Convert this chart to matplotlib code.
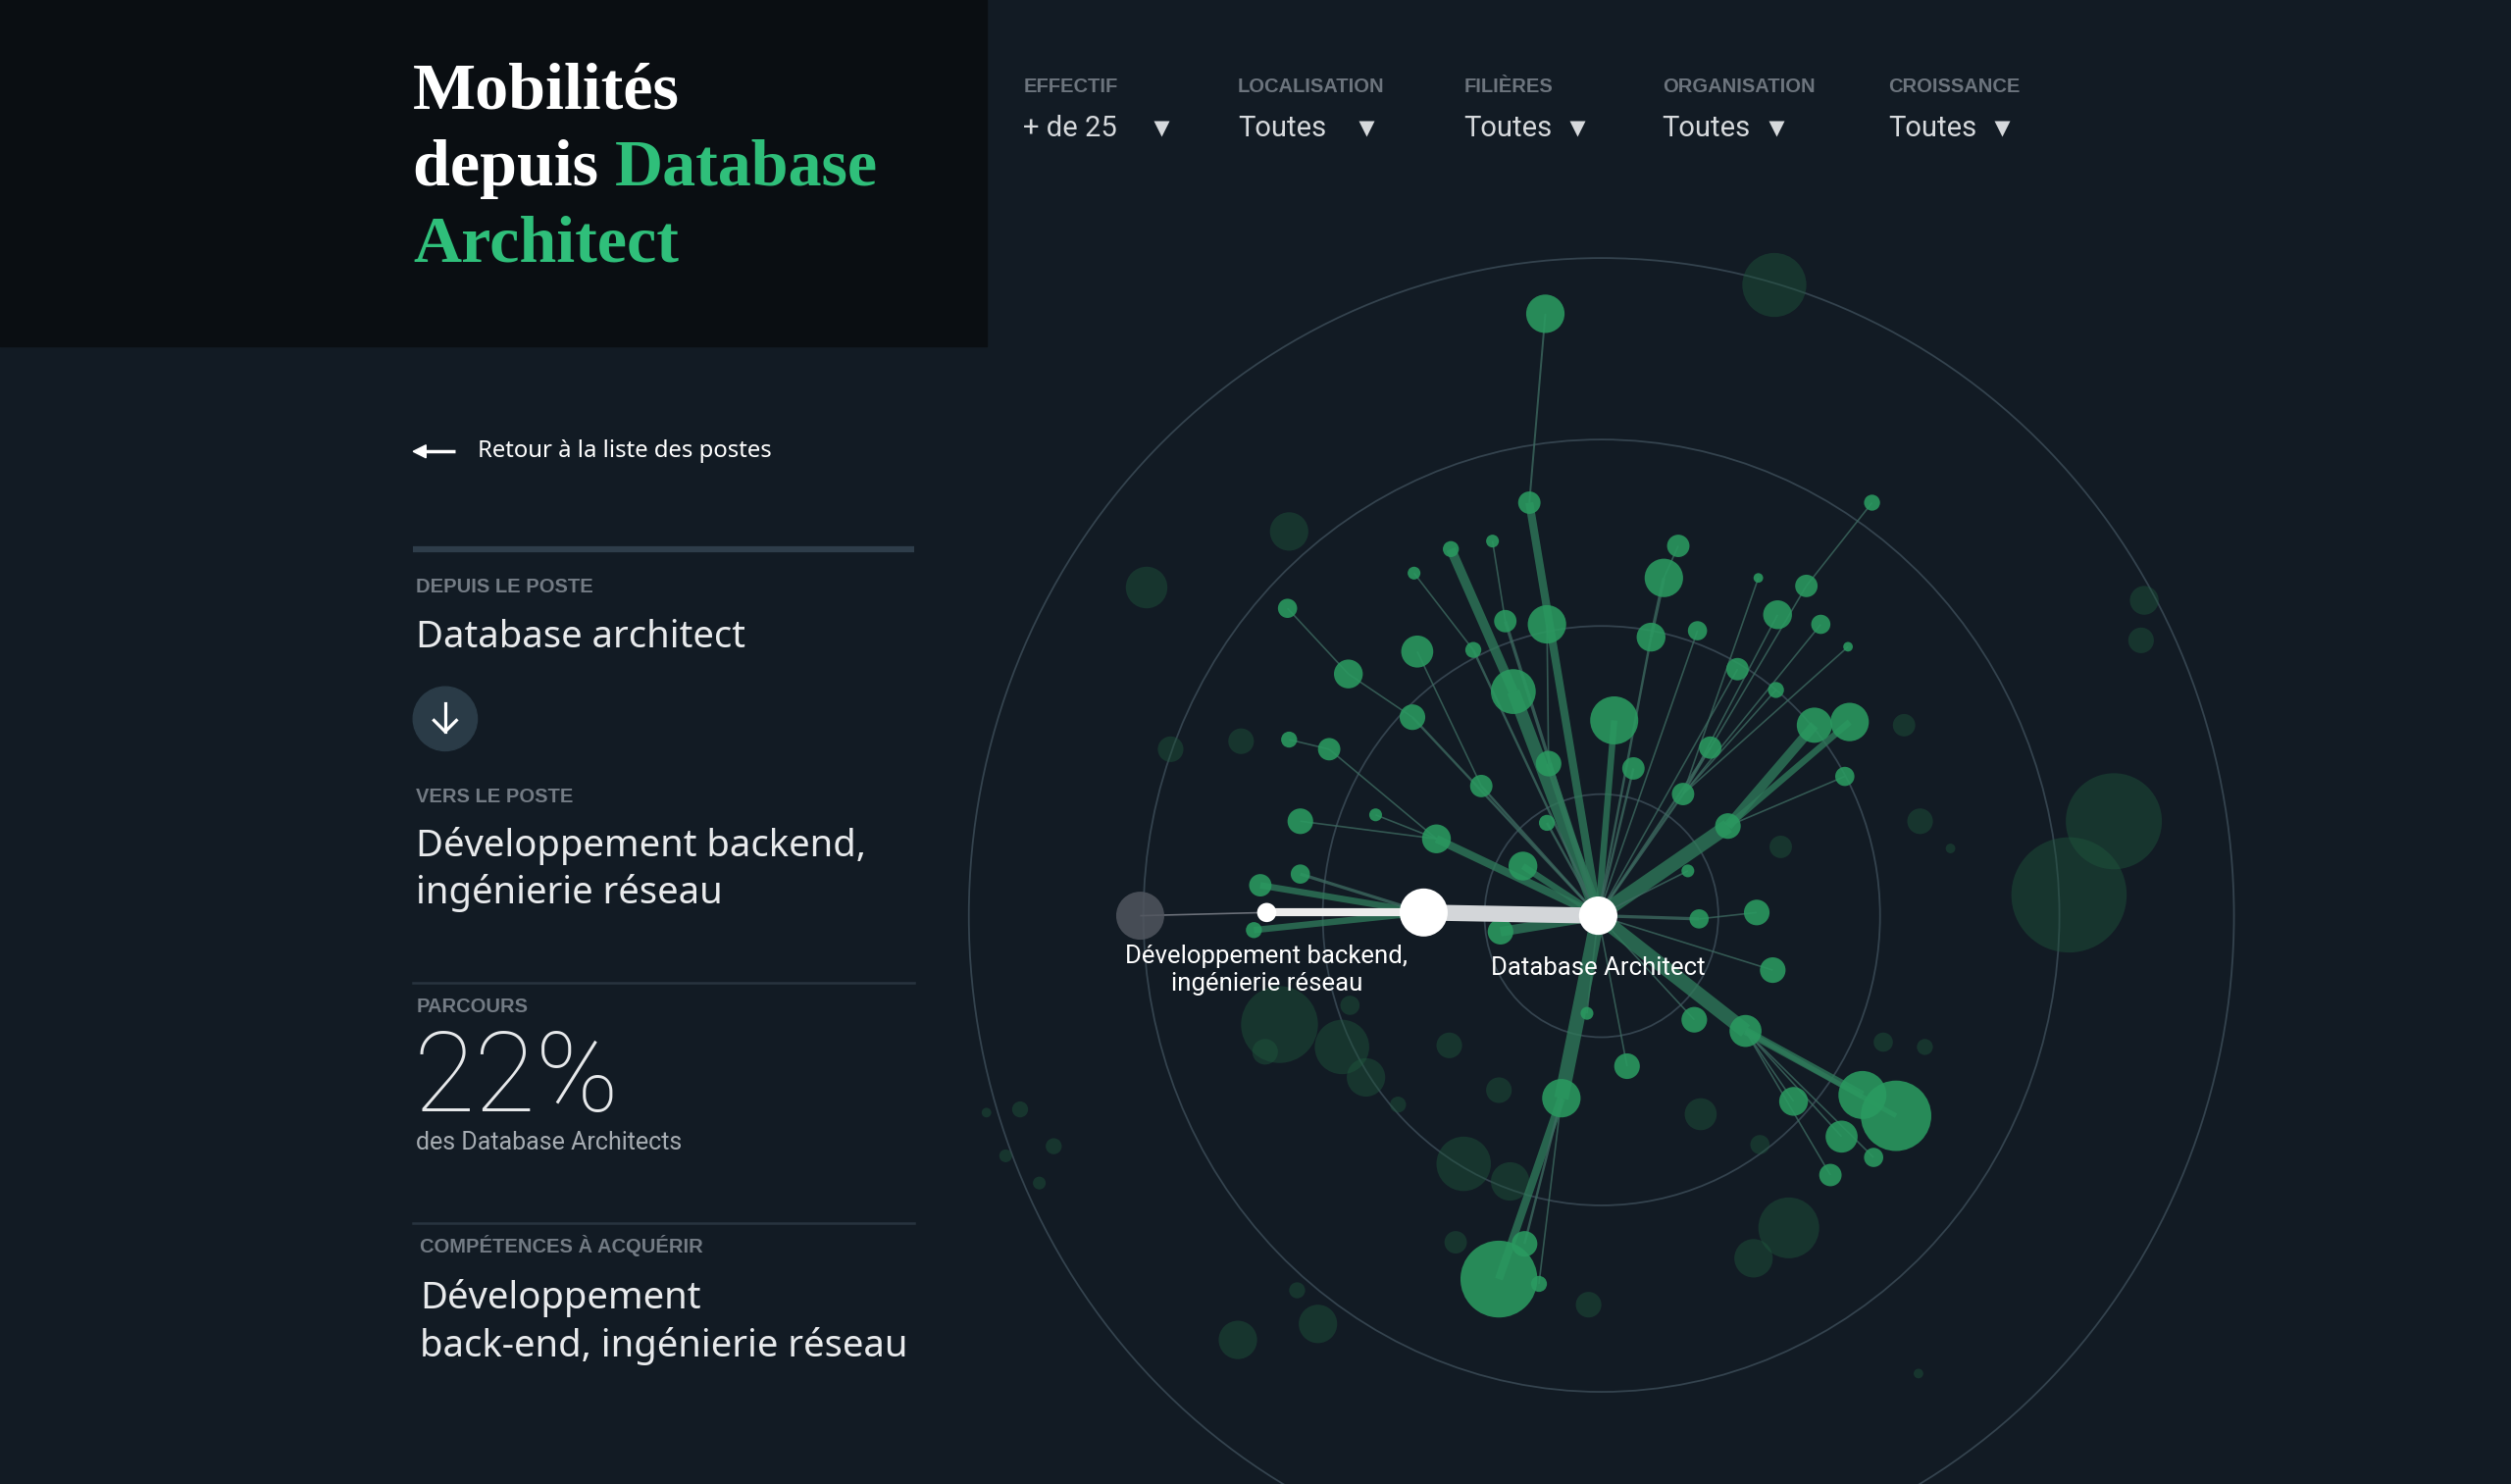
import matplotlib
matplotlib.use("Agg")
import matplotlib.pyplot as plt
from matplotlib.patches import Circle, Ellipse, Rectangle, Polygon

# ---- content -------------------------------------------------------------
title_lines = [("Mobilités", ""), ("depuis ", "Database"), ("", "Architect")]
filter_labels = ["EFFECTIF", "LOCALISATION", "FILIÈRES", "ORGANISATION", "CROISSANCE"]
filter_values = ["+ de 25", "Toutes", "Toutes", "Toutes", "Toutes"]

back_label = "Retour à la liste des postes"
from_label, from_job = "DEPUIS LE POSTE", "Database architect"
to_label, to_job = "VERS LE POSTE", "Développement backend,\ningénierie réseau"
share_label, share_value, share_note = "PARCOURS", "22%", "des Database Architects"
skills_label, skills_text = "COMPÉTENCES À ACQUÉRIR", "Développement\nback-end, ingénierie réseau"

focal_name = "Database Architect"
target_name = "Développement backend,\ningénierie réseau"

# selected path (offsets from the focal job, layout units)
path_dx = [0, -109, -207, -286]
path_dy = [0, -2, -2, 0]
path_r = [12, 15, 6, 15]
path_w = [10, 5, 1]

# reachable jobs: offset, size, parent (-1 focal, -2 path hub), flow width
node_dx = [-43, -33, -53, -92, -58, -66, -78, -115, -116, -156, -194, -113, -73,
           -32, -31, 10, 22, 33, 41, 50, 62, 87, 70, 53, 81, 135, 157, 154, 130,
           171, 112, 100, 139, 156, 111, 56, 63, 99, 109, 60, 92, 165, 186, 122,
           152, 172, 145, 18, -7, -23, -62, -46, -37, -61, -47, -32, -101, -139,
           -186, -168, -193, -211, -186, -215]
node_dy = [-258, -376, -140, -229, -184, -234, -166, -214, -124, -151, -192, -165,
           -81, -182, -95, -122, -92, -174, -211, -231, -178, -154, -105, -76, -56,
           -119, -121, -87, -206, -258, -188, -211, -182, -168, -141, -28, 2, -2,
           34, 65, 72, 112, 125, 116, 138, 151, 162, 94, 61, 114, 227, 205, 230,
           10, -31, -58, -48, -63, -59, -104, -110, -19, -26, 9]
node_r = [7, 12, 14, 5, 7, 4, 5, 4, 8, 9, 6, 10, 7, 12, 8, 15, 7, 9, 12, 7, 6, 7,
          7, 7, 8, 11, 12, 6, 7, 5, 9, 3, 6, 3, 5, 4, 6, 8, 8, 8, 10, 15, 22, 9,
          10, 6, 7, 8, 4, 12, 24, 8, 5, 8, 9, 5, 9, 4, 8, 7, 5, 7, 6, 5]
node_parent = [-1, 0, -1, 2, -1, 4, -1, 6, -1, 8, 9, 12, -1, 14, -1, -1, -1, -1,
               17, 18, -1, -1, -1, -1, -1, 24, 24, 24, 23, 28, 23, 23, 23, 23, 23,
               -1, -1, 36, -1, -1, -1, 40, 40, 40, 40, 40, 40, -1, -1, -1, 49, 49,
               49, -1, -1, -1, -1, 56, 56, 56, 59, -2, -2, -2]
node_w = [5, 1.2, 8, 6, 2, 1, 1.5, 1, 1.5, 1, 1, 1, 1.5, 1, 4, 4, 1.5, 1.5, 2, 1,
          1, 1, 1.5, 1.5, 9, 6, 4, 1, 1, 1, 1, 1, 1, 1, 1, 1, 2, 1, 1, 1, 9, 5, 3,
          1, 1, 1, 1, 1, 1, 9, 5, 1.5, 1, 6, 4, 1.5, 5, 1, 1, 1, 1, 4, 2, 4]

# filtered-out jobs (faded)
bg_dx = [110, -282, -193, -267, -223, 341, 339, 191, 201, 114, 220, 322, 294, 178,
         204, 64, 101, 119, 97, -6, 200, -199, -208, -160, -145, -155, -93, -62,
         -125, -84, -55, -89, -175, -225, -188, -361, -340, -370, -349, -382]
bg_dy = [-394, -205, -240, -104, -109, -197, -172, -119, -59, -43, -42, -59, -13,
         79, 82, 124, 143, 195, 214, 243, 286, 68, 85, 82, 101, 56, 81, 109, 118,
         155, 166, 204, 255, 265, 234, 121, 144, 150, 167, 123]
bg_r = [20, 13, 12, 8, 8, 9, 8, 7, 8, 7, 3, 30, 36, 6, 5, 10, 6, 19, 12, 8, 3, 24,
        8, 17, 12, 6, 8, 8, 5, 17, 12, 7, 12, 12, 5, 5, 5, 4, 4, 3]

ring_r = [73, 174, 286, 395]

# ---- style ---------------------------------------------------------------
BG = "#121b24"
HEAD = "#0a0e12"
GREEN = "#2fbf7a"
NODE = "#2a9a60"
PX = 1.1755  # layout px -> points
LABEL_FONT = ["Liberation Sans", "DejaVu Sans"]
LFS = 14.5

plt.rcParams["font.family"] = ["Noto Sans", "DejaVu Sans"]

fig = plt.figure(figsize=(25.6, 15.13), dpi=100, facecolor=BG)
ax = fig.add_axes([0, 0, 1, 1])
ax.set_xlim(0, 1568)
ax.set_ylim(927, 0)
ax.axis("off")

# header block
ax.add_patch(Rectangle((0, 0), 616, 216, color=HEAD, zorder=0))
serif = "Liberation Serif"
tfs = 49
for i, (white, green) in enumerate(title_lines):
    y = 68 + i * 47.5
    t = ax.text(258, y, white, color="white", fontsize=tfs, family=serif,
                fontweight="bold", va="baseline")
    if green:
        if white:
            ax.annotate(green, xycoords=t, xy=(1, 0), va="bottom", color=GREEN,
                        fontsize=tfs, family=serif, fontweight="bold")
        else:
            ax.text(258, y, green, color=GREEN, fontsize=tfs, family=serif,
                    fontweight="bold", va="baseline")

# filters
fx = [639, 773, 914, 1038, 1179]
ax_arrow = [725, 853, 985, 1109, 1250]
for x, lab, val, xa in zip(fx, filter_labels, filter_values, ax_arrow):
    ax.text(x, 54, lab, color="#6c747d", fontsize=LFS, family=LABEL_FONT,
            fontweight="bold", va="center")
    ax.text(x, 80, val, color="#d6d9dc", fontsize=21, family="Roboto", va="center")
    ax.plot(xa, 80, marker="v", ms=11, color="#d6d9dc", mec="none")

# back link
ax.plot([262, 284], [282, 282], color="white", lw=2.5, solid_capstyle="butt")
ax.add_patch(Polygon([[258, 282], [266, 278], [266, 286]], closed=True, color="white"))
ax.text(298, 282, back_label, color="white", fontsize=17.2, va="center")

# left panel
ax.plot([258, 571], [343, 343], color="#2e3d4a", lw=4.5, solid_capstyle="butt")
grey_lab = "#737b84"
ax.text(260, 367, from_label, color=grey_lab, fontsize=LFS, family=LABEL_FONT,
        fontweight="bold", va="center")
ax.text(260, 398, from_job, color="#e8eaec", fontsize=27.5, va="center")
ax.add_patch(Circle((278, 449), 20, color="#2a3b47"))
ax.plot([278, 278], [439, 457], color="white", lw=2.3)
ax.plot([271, 278, 285], [450, 457, 450], color="white", lw=2.3)
ax.text(260, 498, to_label, color=grey_lab, fontsize=LFS, family=LABEL_FONT,
        fontweight="bold", va="center")
ax.text(260, 543, to_job, color="#e8eaec", fontsize=27.5, va="center", linespacing=1.3)
ax.plot([258, 571], [614, 614], color="#28343f", lw=1.8)
ax.text(260, 629, share_label, color=grey_lab, fontsize=LFS, family=LABEL_FONT,
        fontweight="bold", va="center")
ax.text(258, 694, share_value, color="#e6e8ea", fontsize=82, family="Roboto",
        fontweight="light", va="baseline")
ax.text(260, 714, share_note, color="#a6acb2", fontsize=18, family="Roboto", va="center")
ax.plot([258, 571], [764, 764], color="#28343f", lw=1.8)
ax.text(262, 778, skills_label, color=grey_lab, fontsize=LFS, family=LABEL_FONT,
        fontweight="bold", va="center")
ax.text(262, 826, skills_text, color="#e8eaec", fontsize=27.5, va="center", linespacing=1.33)

# ---- network -------------------------------------------------------------
net = fig.add_axes([0, 0, 1, 1])
net.set_xlim(-998, 1568 - 998)
net.set_ylim(927 - 572, -572)
net.axis("off")
net.patch.set_alpha(0)

for r in ring_r:
    net.add_patch(Ellipse((2, 0), 2 * r, 2 * r * 1.04, fill=False, ec="#34434e",
                          lw=1.3, zorder=1))

for x, y, r in zip(bg_dx, bg_dy, bg_r):
    net.add_patch(Circle((x, y), r, color="#1f5a3e", alpha=0.42, lw=0, zorder=2))

hub = (path_dx[1], path_dy[1])
for x, y, p, w in zip(node_dx, node_dy, node_parent, node_w):
    if p == -1:
        px, py = 0, 0
    elif p == -2:
        px, py = hub
    else:
        px, py = node_dx[p], node_dy[p]
    col = "#2f7a5a" if w > 2 else "#3d6a60"
    net.plot([px, x], [py, y], color=col, lw=w * PX, alpha=0.78,
             solid_capstyle="butt", zorder=3)

for x, y, r in zip(node_dx, node_dy, node_r):
    net.add_patch(Circle((x, y), r, color=NODE, alpha=0.88, lw=0, zorder=4))

# selected path
path_col = ["#d3d6d9", "#ececec", "#6b7079"]
for i, w in enumerate(path_w):
    net.plot(path_dx[i:i + 2], path_dy[i:i + 2], color=path_col[i], lw=w * PX,
             solid_capstyle="butt", zorder=5)
path_fill = ["white", "white", "white", "#50555e"]
for x, y, r, c in zip(path_dx, path_dy, path_r, path_fill):
    net.add_patch(Circle((x, y), r, color=c, lw=0, zorder=6,
                         alpha=1 if c == "white" else 0.85))

net.text(0, 33, focal_name, color="white", fontsize=18.5, family="Roboto",
         ha="center", va="center", zorder=7)
net.text(path_dx[2], 34, target_name, color="white", fontsize=18.5, family="Roboto",
         ha="center", va="center", linespacing=1.2, zorder=7)

fig.savefig("out.png", dpi=100, facecolor=BG)
